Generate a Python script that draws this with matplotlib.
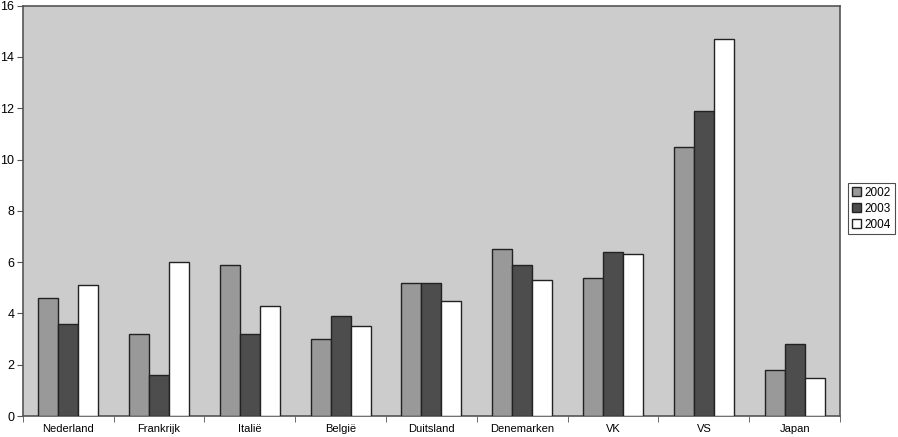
import matplotlib
matplotlib.use("Agg")
import matplotlib.pyplot as plt
import numpy as np

plt.rcParams['font.family'] = ['Liberation Sans', 'DejaVu Sans']

categories = ["Nederland", "Frankrijk", "Italië", "België", "Duitsland",
              "Denemarken", "VK", "VS", "Japan"]
series_names = ["2002", "2003", "2004"]
v2002 = [4.6, 3.2, 5.9, 3.0, 5.2, 6.5, 5.4, 10.5, 1.8]
v2003 = [3.6, 1.6, 3.2, 3.9, 5.2, 5.9, 6.4, 11.9, 2.8]
v2004 = [5.1, 6.0, 4.3, 3.5, 4.5, 5.3, 6.3, 14.7, 1.5]
yticks = [0, 2, 4, 6, 8, 10, 12, 14, 16]

colors = ["#999999", "#4d4d4d", "#ffffff"]

fig = plt.figure(figsize=(8.98, 4.37), dpi=100)
ax = fig.add_axes([0.0253, 0.048, 0.9102, 0.939])
ax.set_facecolor("#cccccc")

x = np.arange(len(categories))
w = 0.22
for i, (vals, c, name) in enumerate(zip([v2002, v2003, v2004], colors, series_names)):
    ax.bar(x + (i - 1) * w, vals, width=w, color=c, edgecolor="#222222",
           linewidth=1.0, label=name, zorder=3)

ax.set_xlim(-0.5, len(categories) - 0.5)
ax.set_ylim(0, 16)
ax.set_yticks(yticks)
ax.set_yticklabels([str(t) for t in yticks], fontsize=9)
ax.set_xticks(x)
ax.set_xticklabels(categories, fontsize=8)
ax.tick_params(axis='x', length=0, pad=6)
ax.set_xticks(np.arange(len(categories) + 1) - 0.5, minor=True)
ax.tick_params(axis='x', which='minor', length=4, direction='out', color="#555555")
ax.tick_params(axis='y', length=4, direction='out', color="#555555", pad=2)

for s in ax.spines.values():
    s.set_color("#555555")
    s.set_linewidth(1.2)

leg = ax.legend(loc="center left", bbox_to_anchor=(1.01, 0.505), fontsize=8.5,
                frameon=True, fancybox=False, edgecolor="#222222",
                handlelength=0.8, handleheight=0.8, handletextpad=0.3,
                borderpad=0.3, labelspacing=0.35, borderaxespad=0)
leg.get_frame().set_linewidth(0.8)

fig.savefig("out.png", dpi=100, facecolor="white")
